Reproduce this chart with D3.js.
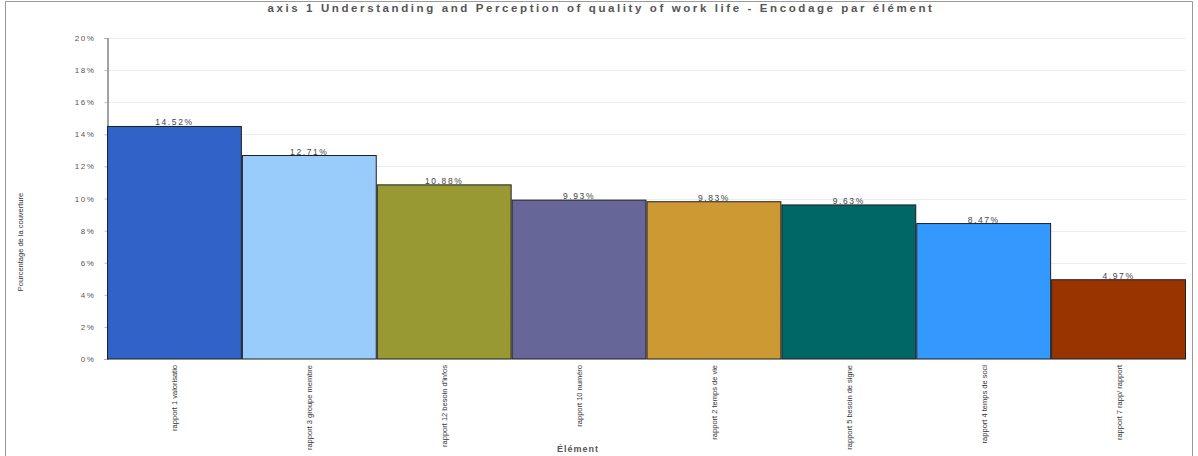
<!DOCTYPE html>
<html>
<head>
<meta charset="utf-8">
<script src="https://cdn.jsdelivr.net/npm/d3@7"></script>
<style>
  html, body { margin: 0; padding: 0; background: #fff; }
  svg { display: block; font-family: "Liberation Sans", Arial, sans-serif; }
</style>
</head>
<body>
<svg id="chart" width="1198" height="456"></svg>
<script>
// Share of coverage per element, axis 1
const categories = [
  "rapport 1 valorisatio",
  "rapport 3 groupe membre",
  "rapport 12 besoin d'infos",
  "rapport 10 numéro",
  "rapport 2 temps de vie",
  "rapport 5 besoin de signe",
  "rapport 4 temps de soci",
  "rapport 7 rapp/ rapport"
];
const values = [14.52, 12.71, 10.88, 9.93, 9.83, 9.63, 8.47, 4.97];
const valueLabels = ["14.52%", "12.71%", "10.88%", "9.93%", "9.83%", "9.63%", "8.47%", "4.97%"];
const colors = ["#3062c8", "#99ccfb", "#999933", "#666699", "#cc9933", "#006666", "#3399ff", "#993300"];
const yTicks = [0, 2, 4, 6, 8, 10, 12, 14, 16, 18, 20];
const yTickLabels = ["0%", "2%", "4%", "6%", "8%", "10%", "12%", "14%", "16%", "18%", "20%"];

const svg = d3.select("#chart");
const W = 1198, H = 456;
const m = { left: 107, right: 1186, top: 38, bottom: 359 };

// frame around the figure
svg.append("path")
  .attr("d", `M5.5,${H} V1.5 H1192.5 V${H}`)
  .attr("fill", "none").attr("stroke", "#9a9a9a").attr("stroke-width", 1);

const x = d3.scaleBand().domain(categories).range([m.left, m.right]).padding(0);
const y = d3.scaleLinear().domain([0, 20]).range([m.bottom, m.top]);

// horizontal grid
svg.append("g").selectAll("line").data(yTicks.filter(d => d > 0)).join("line")
  .attr("x1", m.left).attr("x2", m.right)
  .attr("y1", d => Math.round(y(d)) + 0.5).attr("y2", d => Math.round(y(d)) + 0.5)
  .attr("stroke", "#ececec");

// y axis
const yAxis = d3.axisLeft(y).tickValues(yTicks)
  .tickFormat((d, i) => yTickLabels[i]).tickSize(3).tickPadding(9);
const gy = svg.append("g").attr("transform", `translate(${m.left + 0.5},0)`).call(yAxis);
gy.select(".domain").attr("stroke", "#444");
gy.selectAll(".tick line").attr("stroke", "#bbb");
gy.selectAll("text").attr("fill", "#555").attr("font-size", 8).attr("letter-spacing", "1.6px");

// bars
svg.append("g").selectAll("rect").data(values).join("rect")
  .attr("x", (d, i) => x(categories[i]) + 0.5)
  .attr("y", d => y(d) + 0.5)
  .attr("width", x.bandwidth() - 1)
  .attr("height", d => y(0) - y(d) - 0.5)
  .attr("fill", (d, i) => colors[i])
  .attr("stroke", "#1f1f1f").attr("stroke-width", 1);

// value labels
svg.append("g").selectAll("text").data(values).join("text")
  .attr("x", (d, i) => x(categories[i]) + x.bandwidth() / 2)
  .attr("y", d => y(d) - 0.5)
  .attr("text-anchor", "middle")
  .attr("font-size", 8.5).attr("fill", "#444").attr("letter-spacing", "1.6px")
  .text((d, i) => valueLabels[i]);

// category labels, rotated
svg.append("g").selectAll("text").data(categories).join("text")
  .attr("transform", d => `translate(${x(d) + x.bandwidth() / 2 + 3},${m.bottom + 6}) rotate(-90)`)
  .attr("text-anchor", "end")
  .attr("font-size", 7.5).attr("fill", "#333")
  .text(d => d);

// title
svg.append("text")
  .attr("x", 601).attr("y", 12)
  .attr("text-anchor", "middle")
  .attr("font-size", 11.5).attr("font-weight", "bold").attr("fill", "#555").attr("letter-spacing", "2.6px")
  .text("axis 1  Understanding and Perception of quality of work life - Encodage par élément");

// axis titles
svg.append("text")
  .attr("transform", "translate(23,242) rotate(-90)")
  .attr("text-anchor", "middle").attr("font-size", 7.5).attr("fill", "#333")
  .text("Pourcentage de la couverture");

svg.append("text")
  .attr("x", 578).attr("y", 452)
  .attr("text-anchor", "middle").attr("font-size", 9).attr("font-weight", "bold").attr("fill", "#555")
  .attr("letter-spacing", "1px")
  .text("Élément");
</script>
</body>
</html>
